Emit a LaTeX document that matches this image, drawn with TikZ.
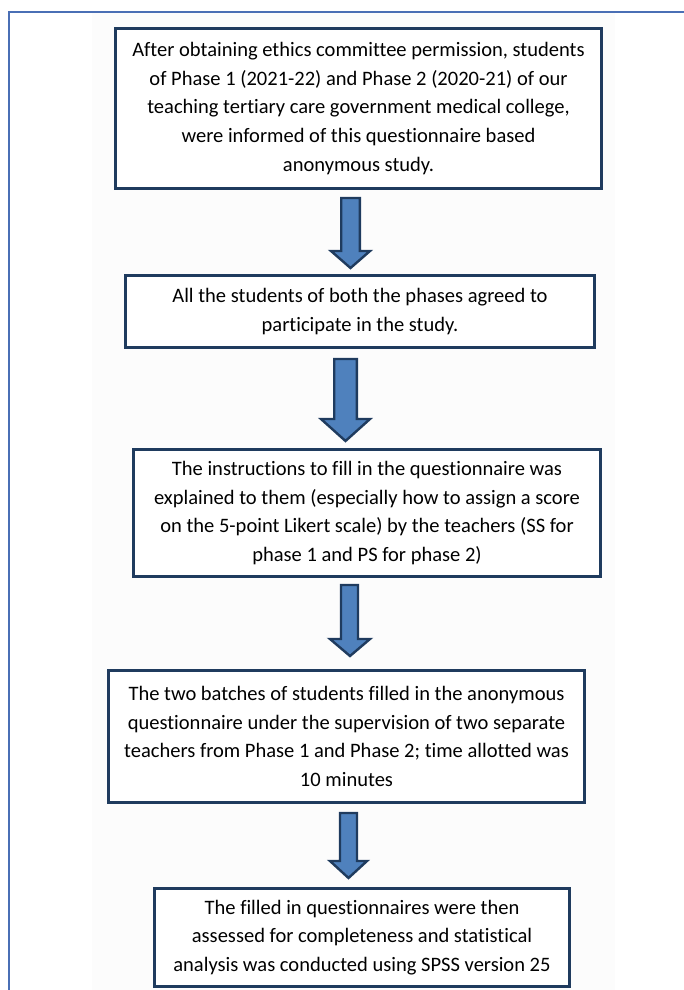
\documentclass[tikz,border=0pt]{standalone}
\usepackage{fontspec}
\setmainfont{Carlito}[Ligatures=CommonOff]
\definecolor{boxline}{HTML}{1F3B5E}
\definecolor{arrowfill}{HTML}{4F81BD}
\definecolor{frameline}{HTML}{4A6FB5}
\begin{document}
\begin{tikzpicture}[x=1bp,y=-1bp,line join=miter,
  stepbox/.style={draw=boxline,line width=3bp,fill=white,align=center,inner sep=0pt,
    font=\fontsize{20.6pt}{28.8pt}\selectfont},
  downarrow/.style={draw=boxline,line width=2.4bp,fill=arrowfill}]
  \useasboundingbox (0,0) rectangle (684,990);
  \fill[gray!2] (92,13) rectangle (615,990);
  \draw[frameline,line width=1.2bp] (9,990) -- (9,12) -- (684,12);
  % boxes
  \node[stepbox,minimum width=486bp,minimum height=160bp] (ethics) at (358.5,108.5)
    {After obtaining ethics committee permission, students\\
     of Phase 1 (2021-22) and Phase 2 (2020-21) of our\\
     teaching tertiary care government medical college,\\
     were informed of this questionnaire based\\
     anonymous study.};
  \node[stepbox,minimum width=469bp,minimum height=72bp] (agree) at (360,311.5)
    {All the students of both the phases agreed to\\
     participate in the study.};
  \node[stepbox,minimum width=467bp,minimum height=127bp] (instruct) at (367,513)
    {The instructions to fill in the questionnaire was\\
     explained to them (especially how to assign a score\\
     on the 5-point Likert scale) by the teachers (SS for\\
     phase 1 and PS for phase 2)};
  \node[stepbox,minimum width=476bp,minimum height=132bp] (batches) at (346.5,736.5)
    {The two batches of students filled in the anonymous\\
     questionnaire under the supervision of two separate\\
     teachers from Phase 1 and Phase 2; time allotted was\\
     10 minutes};
  \node[stepbox,minimum width=415bp,minimum height=98bp] (analysis) at (362,937.5)
    {The filled in questionnaires were then\\
     assessed for completeness and statistical\\
     analysis was conducted using SPSS version 25};
  % block arrows
  \draw[downarrow] (341.2,198) -- (359.8,198) -- (359.8,251) -- (370,251) -- (350.5,268)
    -- (331,251) -- (341.2,251) -- cycle;
  \draw[downarrow] (334.2,359) -- (356.8,359) -- (356.8,419) -- (370,419) -- (345.5,441)
    -- (321,419) -- (334.2,419) -- cycle;
  \draw[downarrow] (341,585) -- (358,585) -- (358,639) -- (370,639) -- (350,656)
    -- (330,639) -- (341,639) -- cycle;
  \draw[downarrow] (340,813) -- (357,813) -- (357,861) -- (367,861) -- (348.5,878)
    -- (330,861) -- (340,861) -- cycle;
\end{tikzpicture}
\end{document}
